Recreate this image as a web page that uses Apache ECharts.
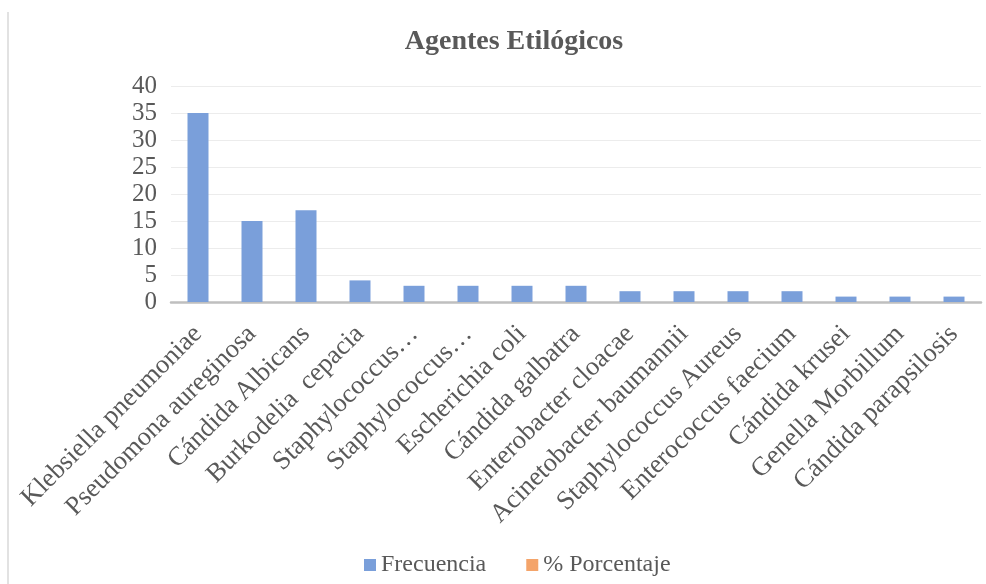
<!DOCTYPE html>
<html>
<head>
<meta charset="utf-8">
<script src="https://cdn.jsdelivr.net/npm/echarts@6/dist/echarts.min.js"></script>
<style>html,body{margin:0;padding:0;background:#fff}#c{width:986px;height:584px}</style>
</head>
<body>
<div id="c"></div>
<script>
const categories = ["Klebsiella pneumoniae","Pseudomona aureginosa","Cándida Albicans","Burkodelia  cepacia","Staphylococcus…","Staphylococcus…","Escherichia coli","Cándida galbatra","Enterobacter cloacae","Acinetobacter baumannii","Staphylococcus Aureus","Enterococcus faecium","Cándida krusei","Genella Morbillum","Cándida parapsilosis"];
const frecuencia = [35,15,17,4,3,3,3,3,2,2,2,2,1,1,1];
const porcentaje = [];
const yTicks = {min:0, max:40, interval:5};

const serif = '"Liberation Serif","Times New Roman",serif';
const chart = echarts.init(document.getElementById('c'));
chart.setOption({
  animation:false,
  title:{text:'Agentes Etilógicos', left:509, textAlign:'center', top:23,
    textStyle:{fontFamily:serif, fontSize:28, fontWeight:'bold', color:'#595959'}},
  graphic:[{type:'line', shape:{x1:8,y1:12,x2:8,y2:584}, style:{stroke:'#d9d9d9', lineWidth:1.5}}],
  legend:{bottom:2, left:359, itemWidth:12, itemHeight:12, itemGap:40, icon:'rect',
    textStyle:{fontFamily:serif, fontSize:24, color:'#595959'},
    data:['Frecuencia','% Porcentaje']},
  grid:{left:171, right:5, top:86, bottom:282},
  xAxis:{type:'category', data:categories,
    axisLine:{lineStyle:{color:'#bfbfbf', width:2.5}},
    axisTick:{show:false},
    axisLabel:{rotate:45, interval:0, fontFamily:serif, fontSize:26.5, color:'#595959', margin:28}},
  yAxis:{type:'value', min:yTicks.min, max:yTicks.max, interval:yTicks.interval,
    axisLine:{show:false}, axisTick:{show:false},
    axisLabel:{fontFamily:serif, fontSize:25, color:'#595959', margin:14},
    splitLine:{lineStyle:{color:'#ececec', width:1}}},
  series:[
    {name:'Frecuencia', type:'bar', data:frecuencia, barWidth:21, barGap:'-100%',
      itemStyle:{color:'#7a9fda'}},
    {name:'% Porcentaje', type:'bar', data:porcentaje, barWidth:21,
      itemStyle:{color:'#f4a46a'}}
  ]
});
</script>
</body>
</html>
